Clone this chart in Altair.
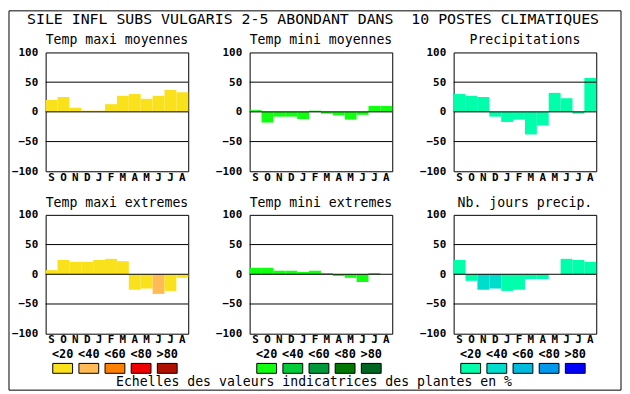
import altair as alt
import pandas as pd

# ---------------- data ----------------
# (the double space before "10" is kept with a no-break space so SVG does not collapse it)
main_title = "SILE INFL SUBS VULGARIS 2-5 ABONDANT DANS \u00a010 POSTES CLIMATIQUES"
caption = "Echelles des valeurs indicatrices des plantes en %"
months = ["S", "O", "N", "D", "J", "F", "M", "A", "M", "J", "J", "A"]
classes = ["<20", "<40", "<60", "<80", ">80"]

titles = ["Temp maxi moyennes", "Temp mini moyennes", "Precipitations",
          "Temp maxi extremes", "Temp mini extremes", "Nb. jours precip."]

tmax_moy = [20, 25, 7, 2, 2, 13, 27, 30, 22, 27, 37, 33]
tmin_moy = [3, -18, -8, -8, -12, 2, -3, -6, -13, -5, 10, 10]
precip = [30, 27, 25, -8, -17, -13, -38, -23, 32, 23, -3, 57]
tmax_ext = [7, 24, 21, 21, 24, 26, 22, -26, -24, -33, -28, -6]
tmin_ext = [11, 11, 6, 6, 4, 6, 2, -3, -6, -13, 2, 0]
nb_jours = [24, -11, -26, -24, -28, -26, -8, -8, 0, 26, 24, 21]

# class index (0=<20 ... 4=>80) of each bar
cls_tmax_moy = [0] * 12
cls_tmin_moy = [0] * 12
cls_precip = [0] * 12
cls_tmax_ext = [0, 0, 0, 0, 0, 0, 0, 0, 0, 1, 0, 0]
cls_tmin_ext = [0] * 12
cls_nb_jours = [0, 0, 1, 1, 0, 0, 0, 0, 0, 0, 0, 0]

pal_temp = ["#F9E21B", "#FFBB55", "#FF8000", "#EE0000", "#AE1100"]
pal_green = ["#11FF11", "#00CC3A", "#00993A", "#007700", "#006622"]
pal_blue = ["#00FFAA", "#00DDCC", "#00BBDD", "#0099EE", "#0000FF"]

# ---------------- layout ----------------
PW, PH = 144, 120
COL_SP, ROW_SP = 62, 44
LEG_H = 10
FONT = "DejaVu Sans Mono"

label_expr = "[" + ",".join("'%s'" % m for m in months) + "][datum.value]"

y_axis = alt.Axis(values=[-100, -50, 0, 50, 100], grid=False, ticks=False,
                  domain=False, labelFont=FONT, labelFontWeight="bold",
                  labelFontSize=11, labelPadding=8, labelColor="black",
                  labelOverlap=False)
y_scale = alt.Scale(domain=[-100, 100], nice=False)


def panel(title, values, cls, palette):
    df = pd.DataFrame({"m": list(range(12)), "v": values,
                       "c": [palette[k] for k in cls]})
    bars = alt.Chart(df).mark_bar().encode(
        x=alt.X("m:O", title=None,
                scale=alt.Scale(paddingInner=0, paddingOuter=0),
                axis=alt.Axis(labelExpr=label_expr, labelAngle=0, ticks=False,
                              domain=False, labelFont=FONT, labelFontWeight="bold",
                              labelFontSize=11, labelPadding=0, labelColor="black",
                              labelOverlap=False)),
        y=alt.Y("v:Q", title=None, scale=y_scale, axis=y_axis),
        fill=alt.Fill("c:N", scale=None),
    )
    rules = alt.Chart(pd.DataFrame({"v": [-50, 0, 50]})).mark_rule(
        color="black", strokeWidth=1).encode(
        y=alt.Y("v:Q", title=None, scale=y_scale, axis=y_axis))
    return alt.layer(bars, rules).properties(
        width=PW, height=PH,
        title=alt.TitleParams(title, font=FONT, fontSize=13.3, fontWeight="normal",
                              color="black", anchor="middle", offset=0),
        view=alt.ViewBackground(stroke="black", strokeWidth=1),
    )


def legend(palette, extra=False):
    df = pd.DataFrame({"k": classes, "c": palette})
    x = alt.X("k:N", sort=classes, scale=alt.Scale(type="point", range=[4, 136]), axis=None)
    sw = alt.Chart(df).mark_point(
        shape="M-1,-0.5L1,-0.5L1,0.5L-1,0.5Z", size=400, filled=True, opacity=1,
        stroke="black", strokeWidth=1, strokeOpacity=1).encode(
        x=x, y=alt.value(-9), fill=alt.Fill("c:N", scale=None))
    lab = alt.Chart(df).mark_text(font=FONT, fontSize=12, fontWeight="bold",
                                  baseline="alphabetic", color="black").encode(
        x=x, y=alt.value(-19), text="k:N")
    layers = [sw, lab]
    if extra:
        col_off = PW + COL_SP          # this legend sits in column 2
        row_off = 2 * (PH + ROW_SP)    # and in row 3
        plot_x0, plot_y0 = 45, 50      # page position of panel 1 plot area
        t = pd.DataFrame({"t": [main_title]})
        layers.append(alt.Chart(t).mark_text(font=FONT, fontSize=15, color="black",
                                             align="center", baseline="alphabetic").encode(
            x=alt.value(315 - plot_x0 - col_off), y=alt.value(21 - plot_y0 - row_off),
            text="t:N"))
        c = pd.DataFrame({"t": [caption]})
        layers.append(alt.Chart(c).mark_text(font=FONT, fontSize=13.3, color="black",
                                             align="center", baseline="alphabetic").encode(
            x=alt.value(316 - plot_x0 - col_off), y=alt.value(387 - plot_y0 - row_off),
            text="t:N"))
        f = pd.DataFrame({"f": [1]})
        layers.append(alt.Chart(f).mark_rect(fillOpacity=0, stroke="black", strokeWidth=1).encode(
            x=alt.value(8 - plot_x0 - col_off), x2=alt.value(626 - plot_x0 - col_off),
            y=alt.value(8 - plot_y0 - row_off), y2=alt.value(391 - plot_y0 - row_off)))
    return alt.layer(*layers).properties(
        width=PW, height=LEG_H,
        view=alt.ViewBackground(stroke="transparent"))


charts = [
    panel(titles[0], tmax_moy, cls_tmax_moy, pal_temp),
    panel(titles[1], tmin_moy, cls_tmin_moy, pal_green),
    panel(titles[2], precip, cls_precip, pal_blue),
    panel(titles[3], tmax_ext, cls_tmax_ext, pal_temp),
    panel(titles[4], tmin_ext, cls_tmin_ext, pal_green),
    panel(titles[5], nb_jours, cls_nb_jours, pal_blue),
    legend(pal_temp),
    legend(pal_green, extra=True),
    legend(pal_blue),
]

chart = alt.concat(*charts, columns=3, spacing={"row": ROW_SP, "column": COL_SP},
                   bounds="flush").properties(
    padding={"left": 0, "top": 0, "right": 0, "bottom": 0},
    background="white",
)

chart.save("out.html", embed_options={"renderer": "svg", "actions": False})
